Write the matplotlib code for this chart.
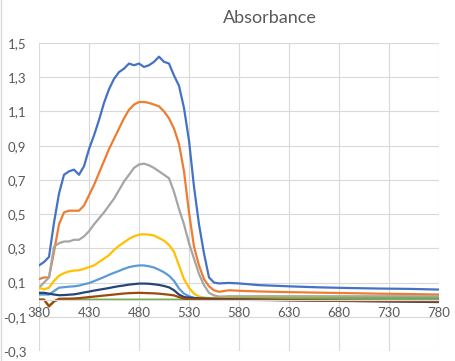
import matplotlib
matplotlib.use("Agg")
import matplotlib.pyplot as plt
from matplotlib.ticker import FuncFormatter
from matplotlib.lines import Line2D

plt.rcParams['font.family'] = ['Lato', 'DejaVu Sans']

# wavelength grid (nm)
wl = [380, 385, 390, 395, 400, 405, 410, 415, 420, 425, 430, 435, 440, 445, 450,
      455, 460, 465, 470, 475, 480, 485, 490, 495, 500, 505, 510, 515, 520, 525,
      530, 535, 540, 545, 550, 555, 560, 570, 580, 600, 630, 660, 690, 720, 750, 780]

s1 = [0.20, 0.22, 0.25, 0.45, 0.62, 0.73, 0.75, 0.76, 0.73, 0.78, 0.88, 0.96, 1.05, 1.15, 1.23,
      1.29, 1.33, 1.35, 1.38, 1.37, 1.38, 1.36, 1.37, 1.39, 1.42, 1.39, 1.38, 1.31, 1.25, 1.12,
      0.93, 0.66, 0.44, 0.27, 0.13, 0.10, 0.095, 0.098, 0.095, 0.085, 0.078, 0.072, 0.068, 0.065, 0.063, 0.059]
s2 = [0.12, 0.13, 0.13, 0.28, 0.44, 0.51, 0.52, 0.52, 0.52, 0.55, 0.61, 0.67, 0.74, 0.81, 0.88,
      0.94, 1.00, 1.06, 1.11, 1.14, 1.155, 1.155, 1.15, 1.14, 1.13, 1.10, 1.06, 1.00, 0.91, 0.75,
      0.51, 0.31, 0.20, 0.12, 0.078, 0.055, 0.046, 0.055, 0.052, 0.048, 0.044, 0.041, 0.038, 0.035, 0.033, 0.030]
s3 = [0.07, 0.10, 0.13, 0.31, 0.33, 0.34, 0.34, 0.35, 0.35, 0.37, 0.40, 0.44, 0.475, 0.51, 0.55,
      0.59, 0.64, 0.69, 0.73, 0.77, 0.79, 0.795, 0.785, 0.77, 0.75, 0.73, 0.71, 0.63, 0.53, 0.44,
      0.33, 0.24, 0.15, 0.085, 0.04, 0.025, 0.018, 0.02, 0.02, 0.02, 0.02, 0.02, 0.02, 0.02, 0.02, 0.02]
s4 = [0.07, 0.06, 0.07, 0.11, 0.14, 0.155, 0.165, 0.17, 0.172, 0.18, 0.19, 0.20, 0.22, 0.24, 0.26,
      0.29, 0.315, 0.335, 0.355, 0.37, 0.38, 0.382, 0.38, 0.375, 0.36, 0.345, 0.32, 0.28, 0.20, 0.12,
      0.07, 0.035, 0.018, 0.012, 0.01, 0.01, 0.01, 0.01, 0.01, 0.01, 0.01, 0.01, 0.009, 0.009, 0.008, 0.008]
s5 = [0.03, 0.03, 0.03, 0.05, 0.07, 0.073, 0.076, 0.078, 0.082, 0.09, 0.097, 0.108, 0.12, 0.132, 0.145,
      0.157, 0.168, 0.18, 0.19, 0.196, 0.20, 0.20, 0.195, 0.188, 0.175, 0.16, 0.14, 0.11, 0.065, 0.035,
      0.02, 0.01, 0.006, 0.005, 0.005, 0.005, 0.005, 0.005, 0.005, 0.005, 0.005, 0.005, 0.005, 0.005, 0.005, 0.005]
s6 = [0.0, 0.0, -0.035, -0.01, 0.0, 0.0, 0.0, 0.0, 0.0, 0.0, 0.0, 0.0, 0.0, 0.0, 0.0,
      0.0, 0.0, 0.0, 0.0, 0.0, 0.0, 0.0, 0.0, 0.0, 0.0, 0.0, 0.0, 0.0, 0.0, 0.0,
      0.0, 0.0, 0.0, 0.002, 0.003, 0.004, 0.005, 0.005, 0.006, 0.006, 0.007, 0.007, 0.008, 0.008, 0.008, 0.008]
s7 = [0.04, 0.04, 0.035, 0.03, 0.026, 0.027, 0.029, 0.031, 0.036, 0.042, 0.047, 0.053, 0.058, 0.063, 0.068,
      0.074, 0.079, 0.083, 0.088, 0.091, 0.094, 0.094, 0.093, 0.09, 0.086, 0.08, 0.072, 0.055, 0.03, 0.015,
      0.012, 0.01, 0.008, 0.007, 0.006, 0.005, 0.004, 0.003, 0.002, 0.0, -0.003, -0.006, -0.008, -0.01, -0.012, -0.014]
s8 = [0.0, 0.0, -0.04, -0.01, 0.005, 0.006, 0.006, 0.007, 0.009, 0.012, 0.015, 0.018, 0.021, 0.024, 0.027,
      0.030, 0.033, 0.036, 0.038, 0.039, 0.04, 0.039, 0.038, 0.037, 0.035, 0.032, 0.029, 0.025, 0.015, 0.006,
      0.003, 0.002, 0.001, 0.0, 0.0, 0.0, 0.0, 0.0, -0.001, -0.002, -0.004, -0.006, -0.007, -0.008, -0.009, -0.01]

series = [s1, s2, s3, s4, s5, s6, s7, s8]
colors = ['#4472C4', '#ED7D31', '#A5A5A5', '#FFC000', '#5B9BD5', '#70AD47', '#264478', '#9E480E']

xticks = list(range(380, 781, 50))
yticks = [-0.3, -0.1, 0.1, 0.3, 0.5, 0.7, 0.9, 1.1, 1.3, 1.5]

fig = plt.figure(figsize=(4.55, 3.61), dpi=100)
ax = fig.add_axes([39 / 455, 1 - 351 / 361, 400 / 455, 308 / 361])

for ys, c in zip(series, colors):
    ax.plot(wl, ys, color=c, lw=1.6, solid_joinstyle='round')

ax.set_xlim(380, 780)
ax.set_ylim(-0.3, 1.5)
ax.set_xticks(xticks)
ax.set_yticks(yticks)
ax.yaxis.set_major_formatter(FuncFormatter(lambda v, p: ('%.1f' % v).replace('.', ',')))

ax.grid(True, color='#d9d9d9', lw=0.8)
ax.set_axisbelow(True)
for s in ['top', 'right', 'left']:
    ax.spines[s].set_visible(False)
ax.spines['bottom'].set_position(('data', 0))
ax.spines['bottom'].set_color('#d9d9d9')
ax.spines['bottom'].set_linewidth(0.8)

ax.tick_params(axis='both', length=0, labelsize=9.5, labelcolor='#595959')
ax.tick_params(axis='y', pad=9)
ax.tick_params(axis='x', pad=5)

fig.text(270 / 455, 1 - 18 / 361, 'Absorbance', ha='center', va='center',
         fontsize=13, color='#595959')

# chart border on the left
fig.add_artist(Line2D([0.002, 0.002], [0, 1], color='#d9d9d9', lw=1, transform=fig.transFigure))

fig.savefig('out.png', dpi=100)
